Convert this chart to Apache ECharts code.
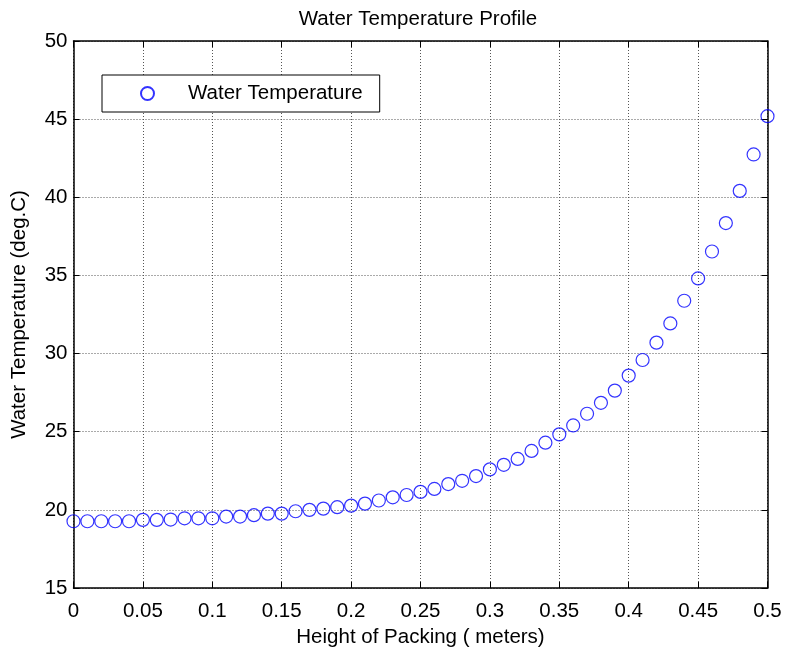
<!DOCTYPE html>
<html>
<head>
<meta charset="utf-8">
<script src="https://cdn.jsdelivr.net/npm/echarts@6/dist/echarts.min.js"></script>
<style>
  html, body { margin: 0; padding: 0; background: #fff; }
  #chart { width: 785px; height: 648px; }
</style>
</head>
<body>
<div id="chart"></div>
<script>
// Packing height (m) at each sample point
const heights = [
  0.00, 0.01, 0.02, 0.03, 0.04, 0.05, 0.06, 0.07, 0.08, 0.09,
  0.10, 0.11, 0.12, 0.13, 0.14, 0.15, 0.16, 0.17, 0.18, 0.19,
  0.20, 0.21, 0.22, 0.23, 0.24, 0.25, 0.26, 0.27, 0.28, 0.29,
  0.30, 0.31, 0.32, 0.33, 0.34, 0.35, 0.36, 0.37, 0.38, 0.39,
  0.40, 0.41, 0.42, 0.43, 0.44, 0.45, 0.46, 0.47, 0.48, 0.49,
  0.50
];

// Water temperature (deg.C) at each height
const waterTemp = [
  19.27, 19.27, 19.27, 19.27, 19.27, 19.36, 19.36, 19.38, 19.46, 19.46,
  19.46, 19.57, 19.57, 19.66, 19.76, 19.76, 19.91, 20.00, 20.08, 20.17,
  20.27, 20.40, 20.60, 20.80, 20.95, 21.15, 21.34, 21.65, 21.86, 22.16,
  22.59, 22.88, 23.26, 23.77, 24.30, 24.83, 25.40, 26.15, 26.85, 27.63,
  28.59, 29.59, 30.70, 31.93, 33.38, 34.81, 36.53, 38.35, 40.41, 42.74,
  45.19
];

const seriesName = 'Water Temperature';
const chartTitle = 'Water Temperature Profile';
const xAxisName = 'Height of Packing ( meters)';
const yAxisName = 'Water Temperature (deg.C)';

const FONT = '"Liberation Sans", Arial, Helvetica, sans-serif';
const FS = 20.5;

const points = heights.map((h, i) => [h, waterTemp[i]]);

const chart = echarts.init(document.getElementById('chart'), null, { renderer: 'canvas' });

const tickStyle = { show: true, inside: true, length: 6, lineStyle: { color: '#000', width: 1 } };
const lineStyle = { show: true, onZero: false, lineStyle: { color: '#000', width: 1.5 } };
const gridLine = { show: true, lineStyle: { color: '#555', type: [1, 2], width: 1 } };

chart.setOption({
  animation: false,
  backgroundColor: '#fff',
  textStyle: { fontFamily: FONT },
  title: {
    text: chartTitle,
    left: 413,
    textAlign: 'center',
    top: 4,
    textStyle: { fontFamily: FONT, fontSize: FS, fontWeight: 'normal', color: '#000' }
  },
  legend: {
    data: [seriesName],
    left: 102,
    top: 75,
    orient: 'vertical',
    padding: [8, 17, 8, 38],
    itemWidth: 71,
    itemHeight: 13,
    backgroundColor: '#fff',
    borderColor: '#000',
    borderWidth: 1,
    textStyle: { fontFamily: FONT, fontSize: FS, color: '#000' }
  },
  grid: { left: 73.5, right: 17.5, top: 41, bottom: 60, containLabel: false, outerBoundsMode: 'none' },
  xAxis: [
    {
      type: 'value', min: 0, max: 0.5, interval: 0.05,
      name: xAxisName, nameLocation: 'middle', nameGap: 31,
      nameTextStyle: { fontFamily: FONT, fontSize: FS, color: '#000' },
      axisLine: lineStyle, axisTick: tickStyle,
      axisLabel: { fontFamily: FONT, fontSize: FS, color: '#000', margin: 13,
        formatter: v => String(Math.round(v * 100) / 100) },
      splitLine: gridLine
    },
    {
      type: 'value', min: 0, max: 0.5, interval: 0.05, position: 'top',
      axisLine: lineStyle, axisTick: tickStyle, axisLabel: { show: false }, splitLine: { show: false }
    }
  ],
  yAxis: [
    {
      type: 'value', min: 15, max: 50, interval: 5,
      name: yAxisName, nameLocation: 'middle', nameGap: 44, nameRotate: 90,
      nameTextStyle: { fontFamily: FONT, fontSize: FS, color: '#000' },
      axisLine: lineStyle, axisTick: tickStyle,
      axisLabel: { fontFamily: FONT, fontSize: FS, color: '#000', margin: 6 },
      splitLine: gridLine
    },
    {
      type: 'value', min: 15, max: 50, interval: 5, position: 'right',
      axisLine: lineStyle, axisTick: tickStyle, axisLabel: { show: false }, splitLine: { show: false }
    }
  ],
  series: [
    {
      name: seriesName,
      type: 'scatter',
      data: points,
      symbol: 'circle',
      symbolSize: 13,
      clip: false,
      itemStyle: { color: 'rgba(0,0,0,0)', borderColor: '#0000ff', borderWidth: 1.2 },
      emphasis: { disabled: true }
    }
  ]
});
</script>
</body>
</html>
